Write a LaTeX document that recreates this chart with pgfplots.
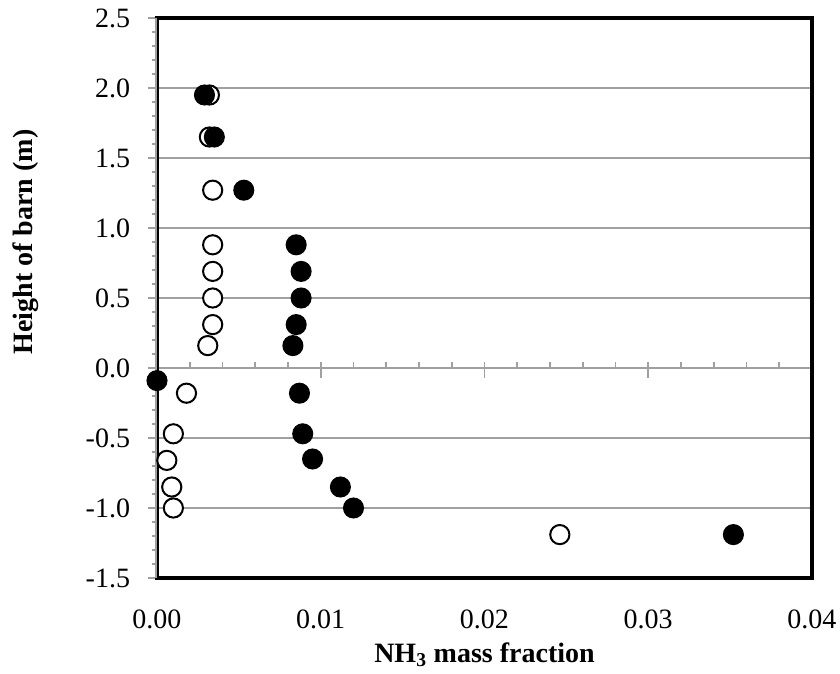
\documentclass[border=0pt]{standalone}
\usepackage{fontspec}
\setmainfont{Liberation Serif}
\usepackage{pgfplots}
\usepackage{pgfplotstable}
\pgfplotsset{compat=1.18}
\definecolor{axgray}{RGB}{160,160,160}

\pgfplotstableread{
x y
0.0032 1.95
0.0032 1.65
0.0034 1.27
0.0034 0.88
0.0034 0.69
0.0034 0.50
0.0034 0.31
0.0031 0.16
0.0018 -0.18
0.0010 -0.47
0.0006 -0.66
0.0009 -0.85
0.0010 -1.00
0.0246 -1.19
}\opendata

\pgfplotstableread{
x y
0.0029 1.95
0.0035 1.65
0.0053 1.27
0.0085 0.88
0.0088 0.69
0.0088 0.50
0.0085 0.31
0.0083 0.16
0.0000 -0.09
0.0087 -0.18
0.0089 -0.47
0.0095 -0.65
0.0112 -0.85
0.0120 -1.00
0.0352 -1.19
}\filleddata

\begin{document}
\begin{tikzpicture}
\begin{axis}[
  scale only axis, width=491.25pt, height=420pt,
  xmin=0, xmax=0.04, ymin=-1.5, ymax=2.5,
  clip=false,
  scaled x ticks=false,
  axis line style={draw=none},
  /pgf/number format/assume math mode=true,
  xtick={0,0.01,0.02,0.03,0.04},
  xticklabels={0.00,0.01,0.02,0.03,0.04},
  major x tick style={draw=none},
  xtick pos=left,
  ytick={-1.5,-1,-0.5,0,0.5,1,1.5,2,2.5},
  yticklabels={-1.5,-1.0,-0.5,0.0,0.5,1.0,1.5,2.0,2.5},
  ytick pos=left,
  minor y tick num=4,
  tick align=outside,
  major tick length=7pt,
  minor tick length=4pt,
  every tick/.style={axgray, line width=1.2pt},
  ymajorgrids,
  major grid style={axgray, line width=1.5pt},
  tick label style={font=\fontsize{21}{25}\selectfont},
  xticklabel style={inner sep=0pt, anchor=north, yshift=-16.5pt},
  yticklabel style={inner sep=0pt, anchor=east, xshift=-13pt},
]
% x axis line at y = 0 with ticks
\draw[axgray, line width=1.5pt] (axis cs:0,0) -- (axis cs:0.04,0);
\pgfplotsinvokeforeach{0.002,0.004,0.006,0.008,0.012,0.014,0.016,0.018,0.022,0.024,0.026,0.028,0.032,0.034,0.036,0.038}{
  \draw[axgray, line width=1.2pt] (axis cs:#1,0) -- ([yshift=4.5pt]axis cs:#1,0);
}
\pgfplotsinvokeforeach{0.01,0.02,0.03,0.04}{
  \draw[axgray, line width=1.2pt] ([yshift=4.5pt]axis cs:#1,0) -- ([yshift=-7.5pt]axis cs:#1,0);
}
% plot-area border
\draw[black, line width=3.2pt, line join=miter, line cap=rect]
  (rel axis cs:0,1) -- (rel axis cs:1,1) -- (rel axis cs:1,0) -- (rel axis cs:0,0);
\draw[axgray, line width=1.2pt] ([xshift=-0.6pt]rel axis cs:0,0) -- ([xshift=-0.6pt]rel axis cs:0,1);
\draw[black, line width=1.5pt] ([xshift=0.75pt]rel axis cs:0,0) -- ([xshift=0.75pt]rel axis cs:0,1);

\addplot[only marks, mark=*, mark size=7.2pt, mark options={draw=black, fill=white, line width=1.5pt}]
  table[x=x, y=y] {\opendata};
\addplot[only marks, mark=*, mark size=7.4pt, mark options={draw=black, fill=black, line width=1pt}]
  table[x=x, y=y] {\filleddata};

\node[rotate=90, font=\bfseries\fontsize{21}{25}\selectfont]
  at ([xshift=-98.25pt]rel axis cs:0,0.6) {Height of barn (m)};
\node[font=\bfseries\fontsize{21}{25}\selectfont]
  at ([yshift=-57.75pt]rel axis cs:0.5,0) {NH\textsubscript{3} mass fraction};
\end{axis}
\path (current axis.south west) ++(-117.75pt,-72pt) rectangle ++(630pt,505.5pt);
\end{tikzpicture}
\end{document}
